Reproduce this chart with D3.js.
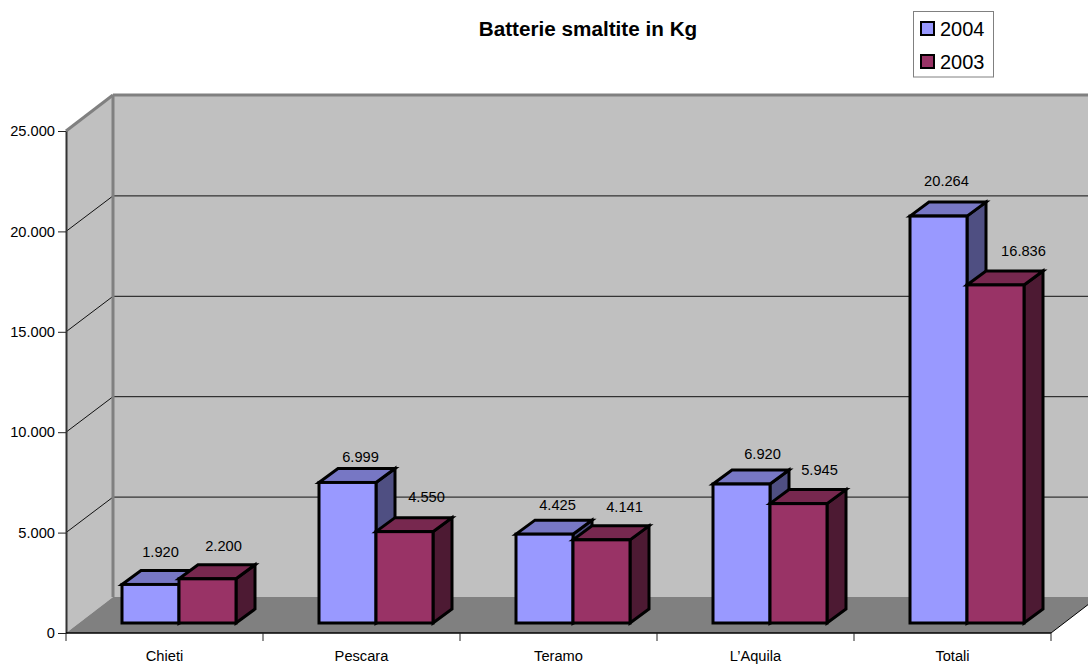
<!DOCTYPE html>
<html><head><meta charset="utf-8">
<script src="https://cdn.jsdelivr.net/npm/d3@7"></script>
<style>html,body{margin:0;padding:0;background:#fff;overflow:hidden}svg{display:block}text{font-family:"Liberation Sans",Arial,sans-serif;fill:#000}</style>
</head><body><svg id="c" width="1088" height="664"></svg>
<script>
const categories = ["Chieti","Pescara","Teramo","L\u2019Aquila","Totali"];
const seriesNames = ["2004","2003"];
const values2004 = [1920,6999,4425,6920,20264];
const values2003 = [2200,4550,4141,5945,16836];
const yTicks = [0,5000,10000,15000,20000,25000];
const title = "Batterie smaltite in Kg";

const svg = d3.select("#c");
const left=66, right=1051, axisY=633, topY=131;
const depthX=47, depthY=36, barDX=19, barDY=14, barBaseLift=10;
const x = d3.scaleBand().domain(categories).range([left,right]);
const y = d3.scaleLinear().domain([0,25000]).range([axisY,topY]);
const fmt = d3.formatLocale({decimal:",",thousands:".",grouping:[3],currency:["",""]}).format(",d");
const bw = 57, groupPad = 56;
const colors=[{f:"#9999ff",t:"#7777c4",s:"#4f4f82"},{f:"#993366",t:"#77284f",s:"#4d1a33"}];
const series=[values2004,values2003];

// walls and floor
const poly=(p,fill,stroke,sw)=>svg.append("polygon").attr("points",p.map(d=>d.join(",")).join(" ")).attr("fill",fill).attr("stroke",stroke||"none").attr("stroke-width",sw||0);
const line=(a,b,c,w)=>svg.append("line").attr("x1",a[0]).attr("y1",a[1]).attr("x2",b[0]).attr("y2",b[1]).attr("stroke",c).attr("stroke-width",w);
poly([[left,axisY],[left,topY],[left+depthX,topY-depthY],[1100,topY-depthY],[1100,axisY-depthY],[left+depthX,axisY-depthY]],"#c0c0c0");
poly([[left,axisY],[left+depthX,axisY-depthY],[right+depthX,axisY-depthY],[right,axisY]],"#808080");
line([right,axisY],[right+depthX,axisY-depthY],"#000",1);
yTicks.slice(1,5).forEach(v=>{
  line([left,y(v)],[left+depthX,y(v)-depthY+0.5],"#111",1);
  line([left+depthX,y(v)-depthY+0.5],[1100,y(v)-depthY+0.5],"#111",1);
});
line([left+depthX,topY-depthY],[left+depthX,axisY-depthY],"#808080",3);
line([left+depthX,topY-depthY],[1100,topY-depthY],"#808080",3);
line([left,topY],[left+depthX,topY-depthY],"#808080",3);

// axes
const gy=svg.append("g").attr("transform",`translate(${left},0)`)
  .call(d3.axisLeft(y).tickValues(yTicks).tickFormat(d=>d===0?"0":fmt(d)).tickSize(8).tickSizeOuter(0));
gy.select(".domain").attr("stroke","#333").attr("stroke-width",2);
gy.selectAll("text").attr("font-size",14.67).attr("x",-11).attr("fill","#000");
gy.selectAll("line").attr("stroke","#222");
const gx=svg.append("g").attr("transform",`translate(0,${axisY})`)
  .call(d3.axisBottom(x).tickValues([]).tickSizeOuter(0));
gx.select(".domain").attr("stroke","#000").attr("stroke-width",1.5).attr("d",`M${left},0H${right}`);
d3.range(categories.length+1).forEach(i=>{const p=left+i*x.step();gx.append("line").attr("x1",p).attr("x2",p).attr("y1",0).attr("y2",8).attr("stroke","#222");});
categories.forEach(c=>gx.append("text").attr("x",x(c)+x.bandwidth()/2).attr("y",28).attr("text-anchor","middle").attr("font-size",14.67).text(c));

// bars
const base=axisY-barBaseLift;
categories.forEach((c,i)=>{
  series.forEach((vals,s)=>{
    const x0=x(c)+groupPad+s*bw, x1=x0+bw, h=axisY-y(vals[i]), t=base-h;
    const col=colors[s];
    const g=svg.append("g").attr("stroke","#000").attr("stroke-width",3).attr("stroke-linejoin","miter");
    g.append("polygon").attr("fill",col.s).attr("points",[[x1,t],[x1+barDX,t-barDY],[x1+barDX,base-barDY],[x1,base]].join(" "));
    g.append("polygon").attr("fill",col.t).attr("points",[[x0,t],[x0+barDX,t-barDY],[x1+barDX,t-barDY],[x1,t]].join(" "));
    g.append("rect").attr("x",x0).attr("y",t).attr("width",bw).attr("height",h).attr("fill",col.f);
  });
});

// data labels: hand-placed offsets from each bar's top-centre, as in the source
const labelNudge=[[[10,-33],[16,-33]],[[13,-26],[22,-35]],[[13,-29],[23,-33]],[[21,-30],[21,-34]],[[8,-35],[28,-34]]];
categories.forEach((c,i)=>series.forEach((vals,s)=>{
  const cx=x(c)+groupPad+s*bw+bw/2, t=base-(axisY-y(vals[i]));
  svg.append("text").attr("x",cx+labelNudge[i][s][0]).attr("y",t+labelNudge[i][s][1]).attr("dy","0.35em")
    .attr("text-anchor","middle").attr("font-size",14.67).attr("fill","#111").text(fmt(vals[i]));
}));

// title
svg.append("text").attr("x",588).attr("y",36).attr("text-anchor","middle").attr("font-size",20.7).attr("font-weight","bold").text(title);

// legend
svg.append("rect").attr("x",913.5).attr("y",11.5).attr("width",80).attr("height",65.5).attr("fill","#fff").attr("stroke","#808080").attr("stroke-width",1);
seriesNames.forEach((n,i)=>{
  const yy=21+i*33;
  svg.append("rect").attr("x",921).attr("y",yy+1).attr("width",13).attr("height",13).attr("fill",colors[i].f).attr("stroke","#000").attr("stroke-width",2);
  svg.append("text").attr("x",940).attr("y",yy+14.5).attr("font-size",20).text(n);
});
</script></body></html>
